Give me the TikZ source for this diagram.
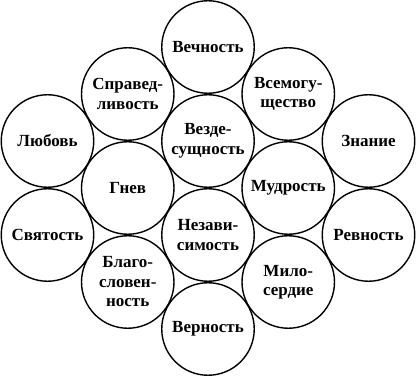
\documentclass[tikz,border=0pt]{standalone}
\usepackage{fontspec}
\setmainfont{Liberation Serif}

\begin{document}
\begin{tikzpicture}[
    x=1pt, y=-1pt,
    attr/.style={draw, circle, line width=1.4pt, minimum size=92.5pt, inner sep=0pt,
                 font=\fontsize{17}{19.5}\selectfont\bfseries, align=center}
  ]
  \useasboundingbox (0,0) rectangle (416,379);

  \node[attr] (vechnost) at (208, 47) {Вечность};
  \node[attr] (spravedlivost) at (127.75, 94) {Справед-\\ливость};
  \node[attr] (vsemogushchestvo) at (288.25, 94) {Всемогу-\\щество};
  \node[attr] (lyubov) at (47.5, 141) {Любовь};
  \node[attr] (vezdesushchnost) at (208, 141) {Везде-\\сущность};
  \node[attr] (znanie) at (368.5, 141) {Знание};
  \node[attr] (gnev) at (127.75, 188) {Гнев};
  \node[attr] (mudrost) at (288.25, 188) {Мудрость};
  \node[attr] (svyatost) at (47.5, 235) {Святость};
  \node[attr] (nezavisimost) at (208, 235) {Незави-\\симость};
  \node[attr] (revnost) at (368.5, 235) {Ревность};
  \node[attr] (blagoslovennost) at (127.75, 282) {Благо-\\словен-\\ность};
  \node[attr] (miloserdie) at (288.25, 282) {Мило-\\сердие};
  \node[attr] (vernost) at (208, 329) {Верность};

\end{tikzpicture}
\end{document}
